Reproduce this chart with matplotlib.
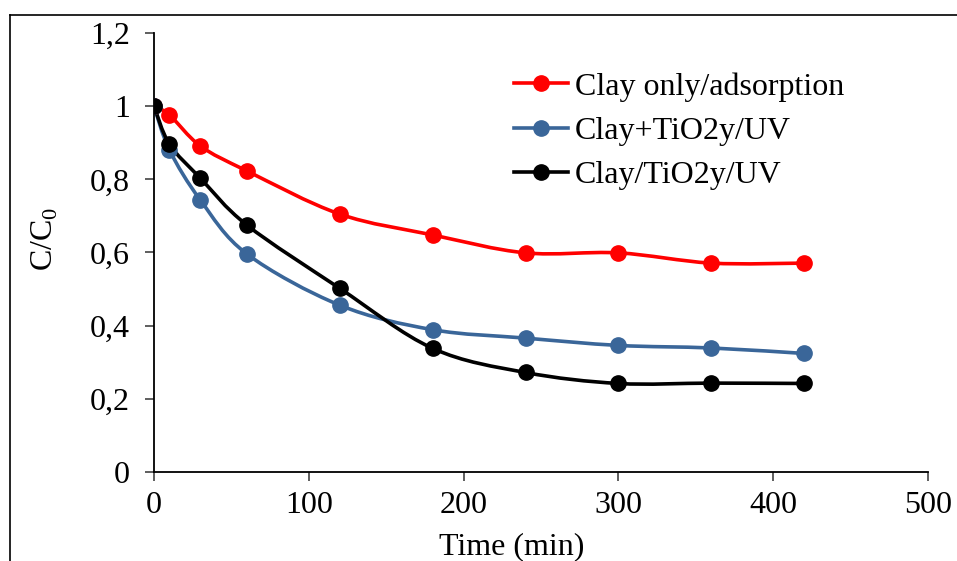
import numpy as np
import matplotlib
matplotlib.use("Agg")
import matplotlib.pyplot as plt
from matplotlib.path import Path
from matplotlib.patches import PathPatch
from matplotlib.lines import Line2D

# data (C/C0 vs time)
time_min = [0, 10, 30, 60, 120, 180, 240, 300, 360, 420]
clay_only = [1.0, 0.976, 0.891, 0.823, 0.705, 0.648, 0.599, 0.599, 0.571, 0.571]
clay_plus_tio2 = [1.0, 0.880, 0.743, 0.596, 0.456, 0.389, 0.366, 0.346, 0.339, 0.324]
clay_tio2 = [1.0, 0.896, 0.803, 0.675, 0.502, 0.338, 0.272, 0.242, 0.243, 0.242]

series_names = ["Clay only/adsorption", "Clay+TiO2y/UV", "Clay/TiO2y/UV"]
series_colors = ["#FF0000", "#3A6699", "#000000"]

x_ticks = [0, 100, 200, 300, 400, 500]
y_ticks = [0, 0.2, 0.4, 0.6, 0.8, 1.0, 1.2]
y_ticklabels = ["0", "0,2", "0,4", "0,6", "0,8", "1", "1,2"]

plt.rcParams["font.family"] = ["Liberation Serif", "DejaVu Serif"]
plt.rcParams["mathtext.fontset"] = "custom"
plt.rcParams["mathtext.rm"] = "Liberation Serif"

FS = 23


def smooth_path(x, y):
    # excel type smoothed line -> cubic bezier thru every point
    pts = np.column_stack([x, y]).astype(float)
    n = len(pts)
    verts = [pts[0]]
    codes = [Path.MOVETO]
    for i in range(n - 1):
        p0 = pts[i - 1] if i > 0 else pts[i]
        p1 = pts[i]
        p2 = pts[i + 1]
        p3 = pts[i + 2] if i + 2 < n else pts[i + 1]
        c1 = p1 + (p2 - p0) / 6.0
        c2 = p2 - (p3 - p1) / 6.0
        verts += [c1, c2, p2]
        codes += [Path.CURVE4] * 3
    return Path(verts, codes)


fig = plt.figure(figsize=(9.57, 5.61), dpi=100)
ax = fig.add_axes([154 / 957, 1 - 472 / 561, 774 / 957, 439 / 561])

all_series = [clay_only, clay_plus_tio2, clay_tio2]
for vals, name, col in zip(all_series, series_names, series_colors):
    ax.add_patch(PathPatch(smooth_path(time_min, vals), facecolor="none",
                           edgecolor=col, lw=2.6, zorder=2))
    ax.plot(time_min, vals, ls="none", marker="o", ms=11, color=col, zorder=3)

ax.set_xlim(0, 500)
ax.set_ylim(0, 1.2)
ax.set_xticks(x_ticks)
ax.set_yticks(y_ticks)
ax.set_yticklabels(y_ticklabels)
ax.tick_params(labelsize=FS, direction="out", length=6.5, width=1.1, color="#333333")
ax.tick_params(axis="y", pad=11)
ax.tick_params(axis="x", pad=7)
for s in ["top", "right"]:
    ax.spines[s].set_visible(False)
for s in ["left", "bottom"]:
    ax.spines[s].set_linewidth(1.3)

ax.set_ylabel(r"C/C$_\mathregular{0}$", fontsize=FS)
ax.yaxis.set_label_coords(-0.122, 0.53)
fig.text(512 / 957, 1 - 547 / 561, "Time (min)", fontsize=FS, ha="center", va="center")

handles = [Line2D([], [], color=c, lw=2.6, marker="o", ms=11) for c in series_colors]
ax.legend(handles, series_names, loc="upper left", bbox_to_anchor=(514 / 957, 1 - 72 / 561),
          bbox_transform=fig.transFigure, frameon=False, fontsize=FS, borderpad=0,
          handlelength=1.7, handletextpad=0.2, labelspacing=0.47, borderaxespad=0)

# chart area border (partly cut off in the original)
fig.add_artist(Line2D([10 / 957, 10 / 957], [0, 1 - 15 / 561], transform=fig.transFigure,
                      color="black", lw=1.2))
fig.add_artist(Line2D([10 / 957, 1], [1 - 15 / 561, 1 - 15 / 561], transform=fig.transFigure,
                      color="black", lw=1.2))

plt.savefig("out.png", dpi=100)
